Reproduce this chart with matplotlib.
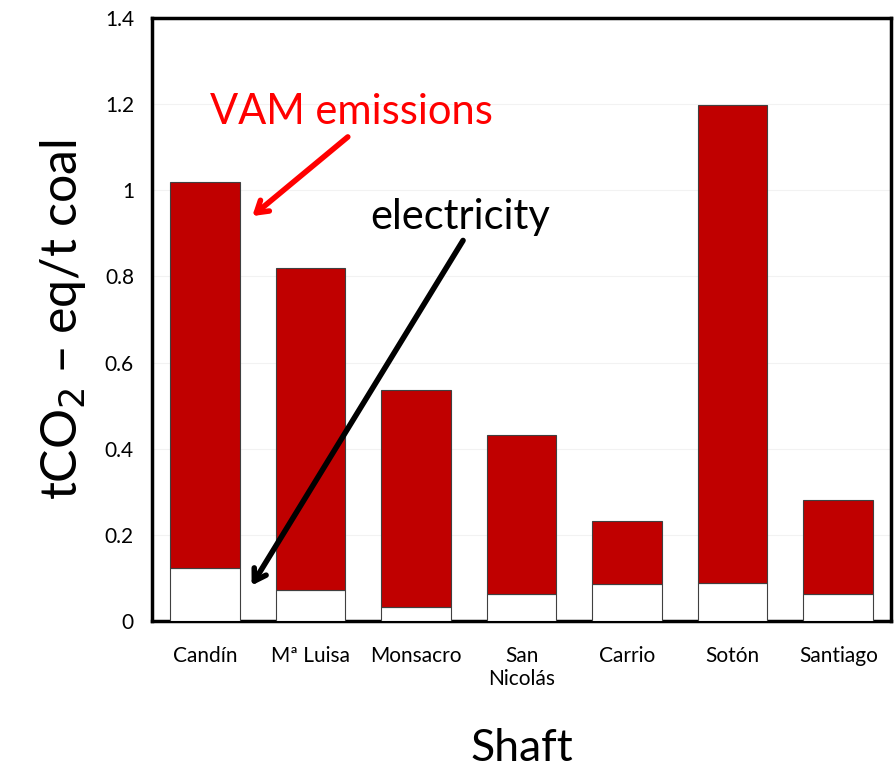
import numpy as np
import matplotlib.pyplot as plt

plt.rcParams['font.family'] = ['Lato', 'DejaVu Sans']

shafts = ['Candín', 'Mª Luisa', 'Monsacro', 'San\nNicolás', 'Carrio', 'Sotón', 'Santiago']
totals = [1.02, 0.82, 0.536, 0.432, 0.232, 1.198, 0.281]
electricity = [0.123, 0.073, 0.033, 0.063, 0.086, 0.088, 0.063]
vam = [t - e for t, e in zip(totals, electricity)]

fig = plt.figure(figsize=(8.96, 7.73), dpi=100)
ax = fig.add_axes([152 / 896, 152 / 773, 739 / 896, 603 / 773])

x = np.arange(len(shafts))
ax.bar(x, electricity, width=0.66, color='white', edgecolor='#404040', linewidth=0.8, zorder=3)
ax.bar(x, vam, bottom=electricity, width=0.66, color='#C00000', edgecolor='#404040', linewidth=0.8, zorder=3)

ax.set_xlim(-0.5, len(shafts) - 0.5)
ax.set_ylim(0, 1.4)
ax.set_yticks(np.arange(0, 1.41, 0.2))
ax.set_yticklabels(['0', '0.2', '0.4', '0.6', '0.8', '1', '1.2', '1.4'])
ax.set_xticks(x)
ax.set_xticklabels(shafts)
ax.tick_params(length=0, labelsize=15, pad=18)
ax.tick_params(axis='y', pad=13)
ax.yaxis.grid(True, color='#f2f2f2', linewidth=0.8, zorder=0)
for s in ax.spines.values():
    s.set_linewidth(2.5)
    s.set_color('black')

ax.set_ylabel('tCO$_2$ – eq/t coal', fontsize=36, labelpad=12)
ax.set_xlabel('Shaft', fontsize=32, labelpad=28)

ax.text(1.39, 1.182, 'VAM emissions', color='red', fontsize=30, ha='center', va='center')
ax.annotate('', xy=(0.43, 0.936), xytext=(1.375, 1.128),
            arrowprops=dict(arrowstyle='->, head_length=0.8, head_width=0.5', color='red', lw=4))
ax.text(2.42, 0.938, 'electricity', color='black', fontsize=30, ha='center', va='center')
ax.annotate('', xy=(0.43, 0.077), xytext=(2.46, 0.889),
            arrowprops=dict(arrowstyle='->, head_length=0.8, head_width=0.5', color='black', lw=4))

fig.savefig('out.png', dpi=100)
